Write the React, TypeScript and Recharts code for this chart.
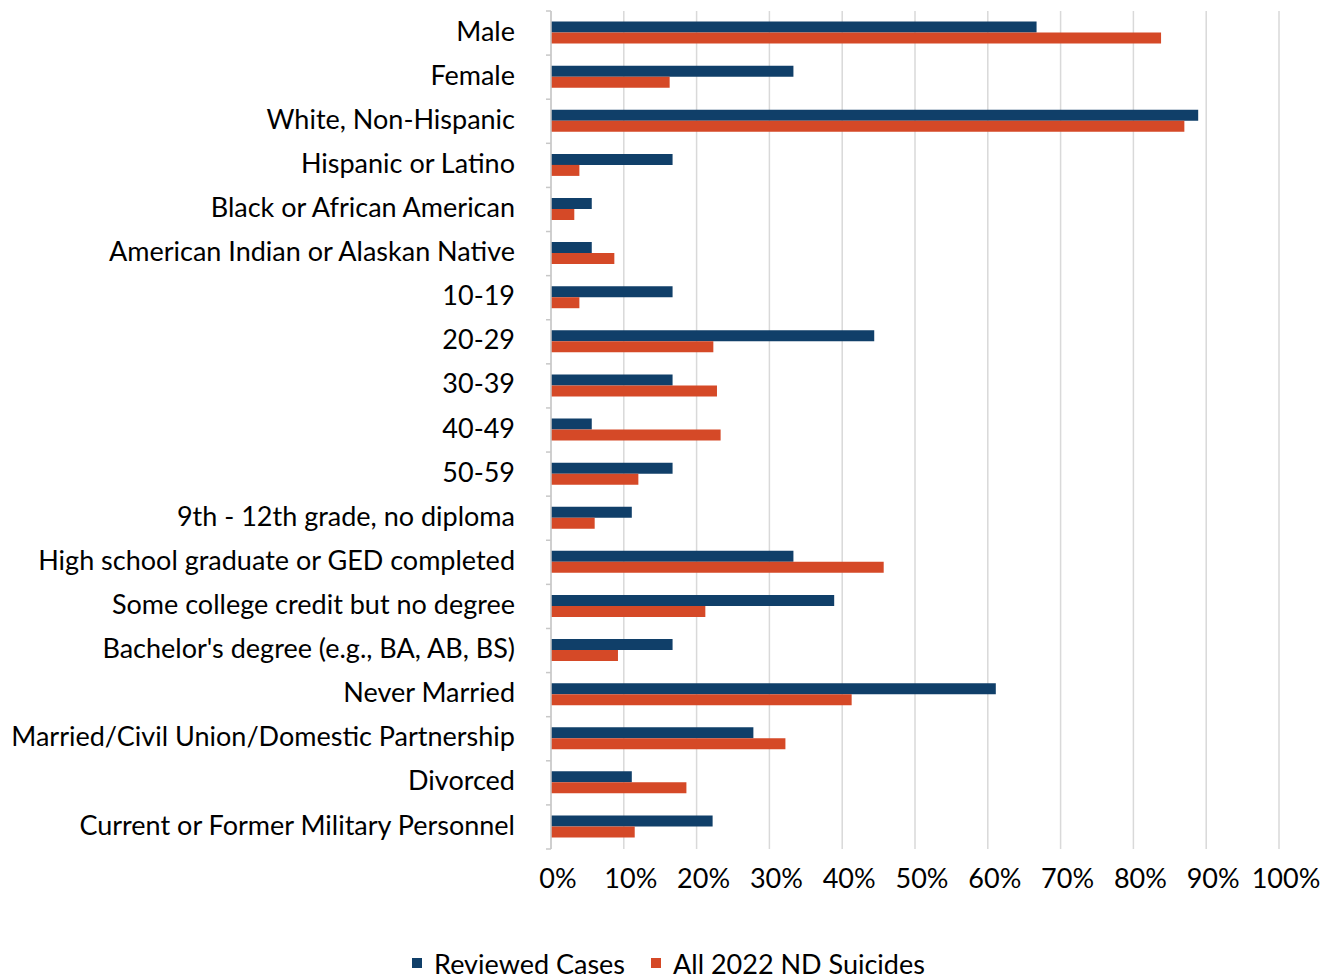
import React from "react";
import { BarChart, Bar, XAxis, YAxis, CartesianGrid, Legend } from "recharts";

const categories = [
  "Male",
  "Female",
  "White, Non-Hispanic",
  "Hispanic or Latino",
  "Black or African American",
  "American Indian or Alaskan Native",
  "10-19",
  "20-29",
  "30-39",
  "40-49",
  "50-59",
  "9th - 12th grade, no diploma",
  "High school graduate or GED completed",
  "Some college credit but no degree",
  "Bachelor's degree (e.g., BA, AB, BS)",
  "Never Married",
  "Married/Civil Union/Domestic Partnership",
  "Divorced",
  "Current or Former Military Personnel",
];

// Share of cases in each group, in percent
const reviewedCases = [
  66.7, 33.3, 88.9, 16.7, 5.6, 5.6, 16.7, 44.4, 16.7, 5.6, 16.7, 11.1, 33.3,
  38.9, 16.7, 61.1, 27.8, 11.1, 22.2,
];
const allNdSuicides = [
  83.8, 16.3, 87.0, 3.9, 3.2, 8.7, 3.9, 22.3, 22.8, 23.3, 12.0, 6.0, 45.7,
  21.2, 9.2, 41.3, 32.2, 18.6, 11.5,
];

const xTicks = [0, 10, 20, 30, 40, 50, 60, 70, 80, 90, 100];

const seriesNames = ["Reviewed Cases", "All 2022 ND Suicides"];
const seriesColors = ["#103f69", "#d54927"];

const data = categories.map((label, i) => ({
  label,
  reviewed: reviewedCases[i],
  all: allNdSuicides[i],
}));

const FONT = "Lato, 'Noto Sans', sans-serif";
const FONT_SIZE = 27;
const TICK_SIZE = 5;
const TICK_MARGIN = 31;
const AXIS_GRAY = "#c8c8c8";

// Category label plus short tick marks at the band boundaries
const CategoryTick = (props: any) => {
  const { x, y, payload, index, visibleTicksCount } = props;
  const half = payload.offset ?? 0;
  const axisX = x + TICK_SIZE + TICK_MARGIN;
  const isLast = index === visibleTicksCount - 1;
  return (
    <g>
      <line
        x1={axisX - TICK_SIZE}
        x2={axisX}
        y1={y - half}
        y2={y - half}
        stroke={AXIS_GRAY}
        strokeWidth={1.5}
      />
      {isLast && (
        <line
          x1={axisX - TICK_SIZE}
          x2={axisX}
          y1={y + half}
          y2={y + half}
          stroke={AXIS_GRAY}
          strokeWidth={1.5}
        />
      )}
      <text
        x={x}
        y={y}
        dy="0.28em"
        textAnchor="end"
        fill="#000"
        fontFamily={FONT}
        fontSize={FONT_SIZE}
      >
        {payload.value}
      </text>
    </g>
  );
};

const LegendContent = () => (
  <div
    style={{
      display: "flex",
      justifyContent: "center",
      alignItems: "center",
      height: 30,
      marginLeft: -12,
      fontFamily: FONT,
      fontSize: FONT_SIZE,
      color: "#000",
    }}
  >
    {seriesNames.map((name, i) => (
      <div
        key={name}
        style={{ display: "flex", alignItems: "center", marginRight: i === 0 ? 26 : 0 }}
      >
        <span
          style={{
            display: "inline-block",
            width: 10,
            height: 10,
            background: seriesColors[i],
            marginRight: 12,
          }}
        />
        <span>{name}</span>
      </div>
    ))}
  </div>
);

export default function App() {
  return (
    <div style={{ width: 1333, height: 970 }}>
      <BarChart
        width={1333}
        height={970}
        data={data}
        layout="vertical"
        margin={{ top: 3, right: 62, bottom: 0, left: 0 }}
        barCategoryGap="24%"
        barGap={0}
      >
        <CartesianGrid
          horizontal={false}
          stroke="#d9d9d9"
          strokeWidth={1.5}
        />
        <XAxis
          type="number"
          domain={[0, 100]}
          ticks={xTicks}
          tickFormatter={(v: number) => `${v}%`}
          axisLine={false}
          tickLine={false}
          tickSize={0}
          tickMargin={20}
          height={99}
          interval={0}
          tick={{ fill: "#000", fontFamily: FONT, fontSize: FONT_SIZE, dx: 7 }}
        />
        <YAxis
          type="category"
          dataKey="label"
          width={543}
          interval={0}
          tickSize={TICK_SIZE}
          tickMargin={TICK_MARGIN}
          tickLine={false}
          axisLine={{ stroke: AXIS_GRAY, strokeWidth: 1.5 }}
          tick={<CategoryTick />}
        />
        <Legend
          verticalAlign="bottom"
          wrapperStyle={{ left: 0, width: 1333 }}
          content={<LegendContent />}
        />
        <Bar
          dataKey="reviewed"
          name={seriesNames[0]}
          fill={seriesColors[0]}
          isAnimationActive={false}
        />
        <Bar
          dataKey="all"
          name={seriesNames[1]}
          fill={seriesColors[1]}
          isAnimationActive={false}
        />
      </BarChart>
    </div>
  );
}
